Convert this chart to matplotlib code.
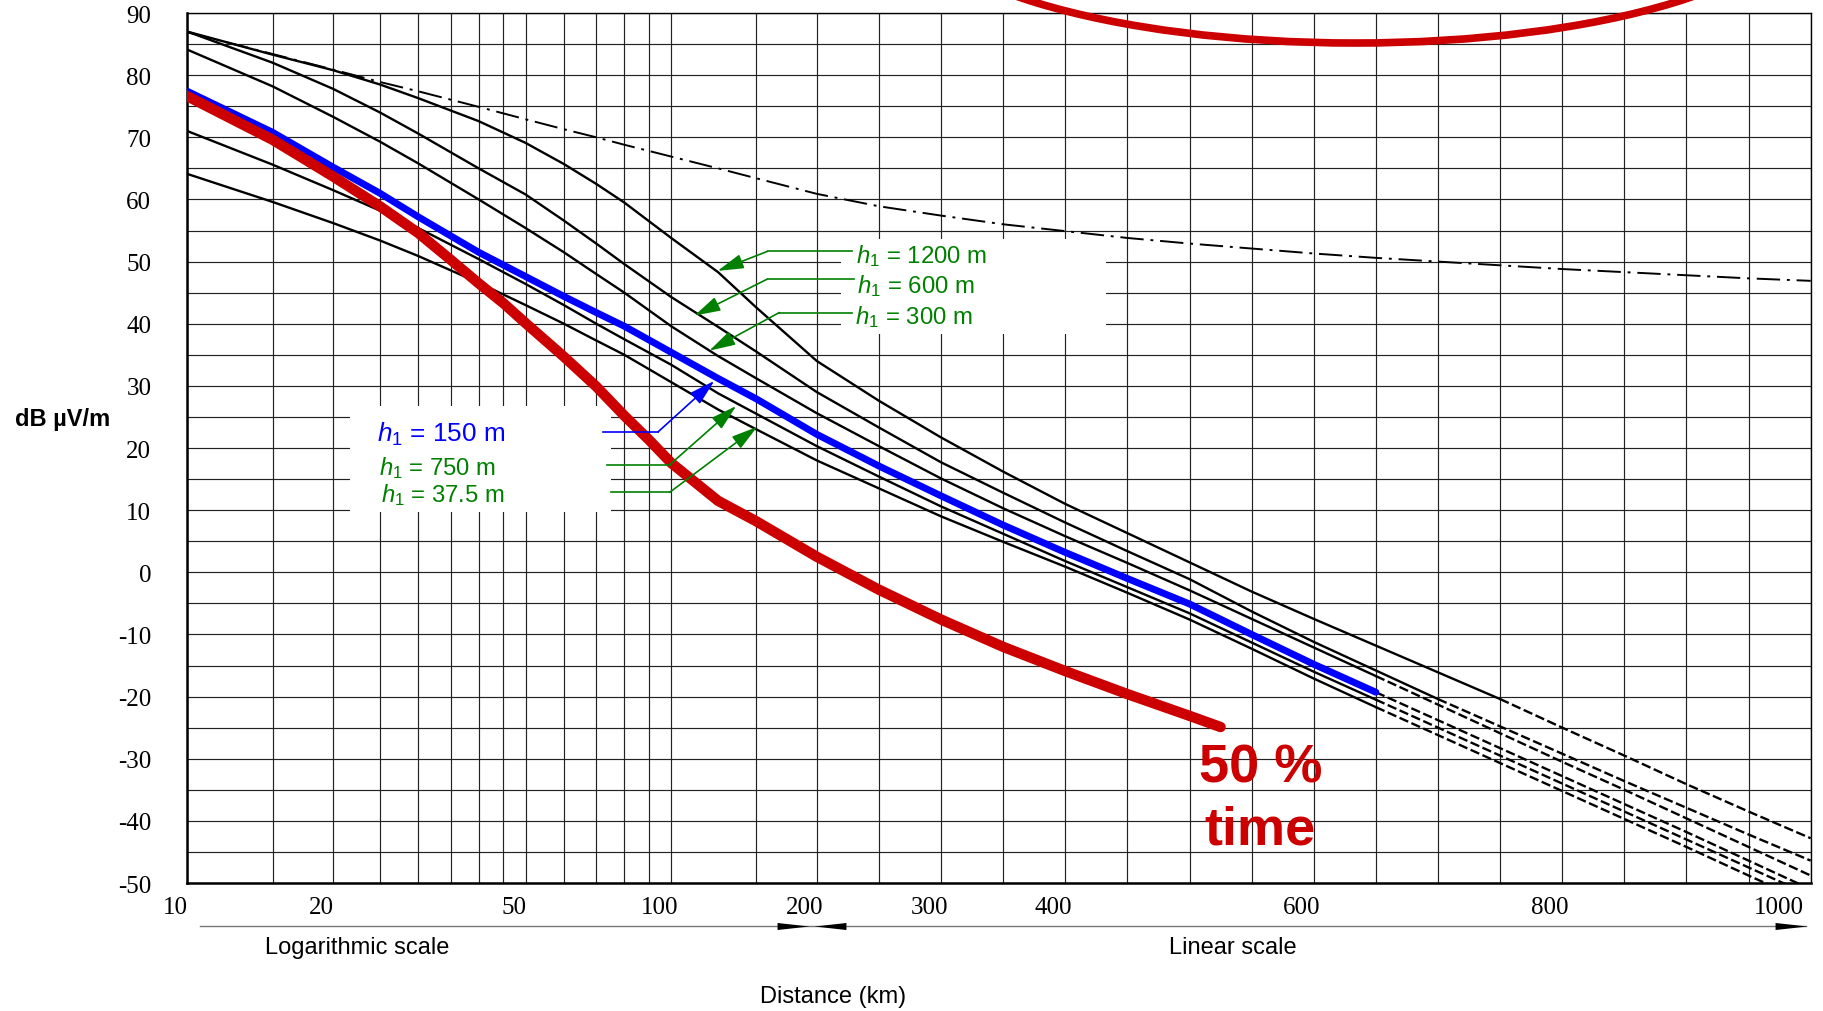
import numpy as np
import matplotlib.pyplot as plt
from matplotlib.patches import Rectangle, Ellipse
from matplotlib.transforms import ScaledTranslation, blended_transform_factory

plt.rcParams['font.family'] = ['Liberation Sans', 'DejaVu Sans']
plt.rcParams['mathtext.fontset'] = 'custom'
plt.rcParams['mathtext.it'] = 'Liberation Sans:italic'
plt.rcParams['mathtext.rm'] = 'Liberation Sans'
plt.rcParams['axes.unicode_minus'] = False

dist = [10, 15, 20, 25, 30, 40, 50, 60, 70, 80, 100, 125, 150, 200, 250, 300,
        350, 400, 450, 500, 550, 600, 650, 700, 750, 800, 850, 900, 950, 1000]

free_space = [86.9, 83.4, 80.9, 78.9, 77.4, 74.9, 72.9, 71.3, 70.0, 68.8, 66.9, 65.0, 63.4, 60.9, 58.9,
              57.4, 56.0, 54.9, 53.8, 52.9, 52.1, 51.3, 50.6, 50.0, 49.4, 48.8, 48.3, 47.8, 47.3, 46.9]
h1200 = [87.0, 83.3, 80.8, 78.5, 76.3, 72.6, 69.1, 65.7, 62.5, 59.5, 53.8, 48.3, 42.6, 34.0, 27.6,
         21.7, 16.2, 11.0, 6.3, 1.6, -3.1, -7.5, -11.8, -16.1, -20.4, -25.0, -29.5, -34.1, -38.5, -42.8]
h600 = [87.0, 82.0, 77.8, 74.0, 70.6, 65.0, 60.8, 56.6, 52.9, 49.6, 44.3, 39.5, 35.5, 29.0, 23.3,
        17.7, 12.8, 8.0, 3.4, -1.1, -6.3, -11.2, -15.8, -20.4, -24.8, -29.2, -33.6, -37.9, -42.2, -46.4]
h300 = [84.1, 78.2, 73.3, 69.3, 65.8, 60.0, 55.4, 51.5, 48.0, 45.0, 39.6, 34.8, 31.2, 25.6, 20.3,
        15.1, 10.3, 5.8, 1.5, -2.9, -7.5, -12.1, -16.7, -21.3, -25.9, -30.5, -35.0, -39.6, -44.2, -48.8]
h150 = [77.4, 70.8, 65.2, 61.0, 57.2, 51.5, 47.6, 44.4, 41.8, 39.6, 35.4, 31.2, 27.9, 22.2, 17.1,
        12.3, 7.6, 3.2, -1.0, -5.1, -10.0, -14.8, -19.3, -23.8, -28.3, -32.8, -37.3, -41.8, -46.4, -51.0]
h75 = [71.0, 65.6, 61.5, 58.2, 55.4, 50.4, 46.4, 43.0, 40.0, 37.5, 33.4, 28.8, 25.5, 20.3, 15.4,
       10.6, 6.2, 1.8, -2.4, -6.6, -11.3, -16.0, -20.5, -25.0, -29.5, -34.0, -38.5, -43.0, -47.5, -52.0]
h37 = [64.1, 59.6, 56.2, 53.4, 50.9, 46.6, 43.0, 40.0, 37.3, 35.0, 30.6, 26.2, 23.0, 18.0, 13.5,
       9.0, 4.9, 0.9, -3.3, -7.6, -12.3, -17.1, -21.7, -26.2, -30.7, -35.2, -39.7, -44.2, -48.8, -53.3]
# km where each curve goes from solid to dashed
solid_to = {'1200': 750, '600': 700, '300': 650, '150': 650, '75': 650, '37.5': 650}

red_dist = [10, 15, 20, 25, 30, 35, 40, 45, 50, 60, 70, 80, 90, 100, 125, 150, 200,
            250, 300, 350, 400, 450, 500, 525]
red_50 = [76.6, 69.6, 63.7, 58.9, 54.6, 50.3, 46.5, 43.3, 40.1, 34.7, 29.9, 25.2, 21.3, 17.6,
          11.5, 8.2, 2.5, -2.8, -7.6, -12.0, -15.9, -19.6, -23.1, -24.9]

x_ticks = [10, 20, 50, 100, 200, 300, 400, 600, 800, 1000]
x_grid = [15, 25, 30, 35, 40, 45, 60, 70, 80, 90, 150, 250, 350, 450, 500, 550, 650,
          700, 750, 850, 900, 950]
y_ticks = list(range(-50, 91, 10))
y_grid = list(range(-45, 90, 10))

# log scale up to 200 km, linear beyond
LOG_W = 484.4
LIN_W = 1.244
KNEE = np.log10(20) * LOG_W


def fwd(d):
    d = np.asarray(d, float)
    lg = np.log10(np.clip(d, 1e-6, None) / 10) * LOG_W
    return np.where(d <= 200, lg, KNEE + (d - 200) * LIN_W)


def inv(u):
    u = np.asarray(u, float)
    lg = 10 * 10 ** (np.clip(u, -5000, KNEE) / LOG_W)
    return np.where(u <= KNEE, lg, 200 + (u - KNEE) / LIN_W)


fig = plt.figure(figsize=(18.24, 10.12), dpi=100)
ax = fig.add_axes([0.10274, 0.12648, 0.88997, 0.85968])
ax.set_xscale('function', functions=(fwd, inv))
ax.set_xlim(10, 1000)
ax.set_ylim(-50, 90)

ax.set_xticks(x_ticks)
ax.set_xticks(x_grid, minor=True)
ax.set_yticks(y_ticks)
ax.set_yticks(y_grid, minor=True)
ax.set_xticklabels([str(t) for t in x_ticks])
ax.set_axisbelow(True)
ax.grid(True, which='both', color='#222222', lw=0.85)
ax.tick_params(which='both', length=0)
ax.tick_params(axis='x', pad=9, labelsize=18, labelfontfamily='Liberation Serif')
ax.tick_params(axis='y', pad=26, labelsize=18, labelfontfamily='Liberation Serif')
for s in ['left', 'bottom']:
    ax.spines[s].set_linewidth(1.8)
for s in ['right', 'top']:
    ax.spines[s].set_linewidth(1.0)

shift = ScaledTranslation(-12 / 100, 0, fig.dpi_scale_trans)
labels = ax.get_xticklabels()
for lbl in labels:
    lbl.set_transform(lbl.get_transform() + shift)
labels[-1].set_ha('right')
labels[-1].set_transform(labels[-1].get_transform() + ScaledTranslation(5 / 100, 0, fig.dpi_scale_trans))

# white boxes behind the labels
ax.add_patch(Rectangle((219.6, 38.35), 213.0, 15.25, fc='white', ec='none', zorder=1))
ax.add_patch(Rectangle((21.65, 9.7), 53.55, 17.06, fc='white', ec='none', zorder=1))

d = np.array(dist)
ax.plot(d, free_space, color='black', lw=1.4, linestyle=(0, (12, 3.5, 1.5, 3.5)), zorder=2)

curves = {'1200': h1200, '600': h600, '300': h300, '75': h75, '37.5': h37, '150': h150}
for name, vals in curves.items():
    vals = np.array(vals)
    brk = solid_to[name]
    lo = d <= brk
    hi = d >= brk
    if name == '150':
        ax.plot(d[lo], vals[lo], color='#0000ff', lw=5, solid_capstyle='round', zorder=4)
    else:
        ax.plot(d[lo], vals[lo], color='black', lw=1.7, zorder=3)
    ax.plot(d[hi], vals[hi], color='black', lw=1.7, linestyle=(0, (4, 1.5)), zorder=3)

ax.plot(red_dist, red_50, color='#cc0000', lw=7.5, solid_capstyle='round',
        solid_joinstyle='round', zorder=5)

ax.text(557, -36.4, '50 %\ntime', color='#cc0000', fontsize=39, fontweight='bold',
        ha='center', va='center', linespacing=1.33, zorder=6)

# curve labels with leaders
green = '#008000'
arrow_kw = dict(arrowstyle='-|>,head_length=1.6,head_width=0.45', lw=1.2,
                shrinkA=0, shrinkB=0)


def leader(label, color, size, text_x, text_y, line_from, elbow, tip):
    ax.plot([line_from, elbow[0]], [elbow[1], elbow[1]], color=color, lw=1.2, zorder=6)
    ax.annotate('', xy=tip, xytext=elbow, arrowprops=dict(color=color, **arrow_kw), zorder=6)
    ax.text(text_x, text_y, label, color=color, fontsize=size, ha='left', va='center', zorder=6)


leader(r'$h_{\mathit{1}}$ = 1200 m', green, 17.3, 231.4, 51.1, 228.7, (158.2, 51.65), (124.7, 48.5))
leader(r'$h_{\mathit{1}}$ = 600 m', green, 17.3, 232.6, 46.3, 230.0, (158.2, 47.2), (111.7, 41.3))
leader(r'$h_{\mathit{1}}$ = 300 m', green, 17.3, 230.7, 41.3, 228.7, (167.3, 41.8), (119.9, 35.66))
leader(r'$h_{\mathit{1}}$ = 150 m', '#0000ff', 18.8, 24.7, 22.3, 72.3, (93.97, 22.6), (122.8, 30.8))
leader(r'$h_{\mathit{1}}$ = 750 m', green, 17.2, 24.9, 17.0, 73.7, (99.3, 17.3), (136.3, 26.76))
leader(r'$h_{\mathit{1}}$ = 37.5 m', green, 17.2, 25.1, 12.6, 75.2, (99.3, 12.87), (150.6, 23.4))

# scale indicator under the axis
trans = blended_transform_factory(ax.transData, ax.transAxes)
y_bar = -0.0494
ax.plot([10.6, 996], [y_bar, y_bar], color='#777777', lw=1.0, transform=trans, clip_on=False)
tri_r = [(0, 0), (-1, 0.11), (-1, -0.11), (0, 0)]
tri_l = [(0, 0), (1, 0.11), (1, -0.11), (0, 0)]
for x, m in [(192.5, tri_r), (197.2, tri_l), (996.7, tri_r)]:
    ax.plot([x], [y_bar], marker=m, ms=46, color='black', mew=0, transform=trans, clip_on=False)

fig.text(0.0345, 0.585, 'dB µV/m', fontsize=17, fontweight='bold', ha='center', va='center')
fig.text(0.1957, 0.0632, 'Logarithmic scale', fontsize=17, ha='center', va='center')
fig.text(0.676, 0.0632, 'Linear scale', fontsize=17, ha='center', va='center')
fig.text(0.4567, 0.0148, 'Distance (km)', fontsize=17, ha='center', va='center')

# red ring drawn over the top of the figure
fig.add_artist(Ellipse((0.7429, 1.0919), 0.4934, 0.2708, transform=fig.transFigure,
                       fill=False, ec='#cc0000', lw=5.5))

fig.savefig('out.png', dpi=100)
